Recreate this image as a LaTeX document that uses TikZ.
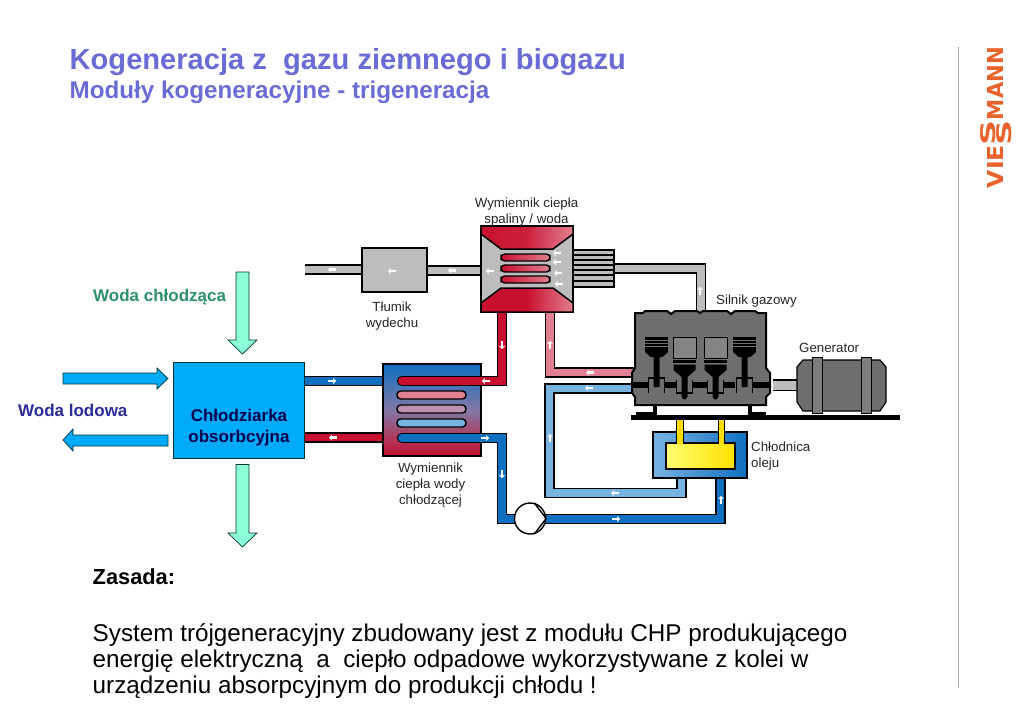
\documentclass[tikz,border=0pt]{standalone}
\usepackage{fontspec}
\setmainfont{Liberation Sans}
\newfontfamily\logofont{DejaVu Sans}
\usetikzlibrary{arrows.meta}
\definecolor{titleblue}{HTML}{6B6BD6}
\definecolor{logoorange}{HTML}{E8632B}
\definecolor{mint}{HTML}{8CFFD8}
\definecolor{chillblue}{HTML}{00AAFA}
\definecolor{darkred}{HTML}{C8102E}
\definecolor{pinkred}{HTML}{E27F90}
\definecolor{darkblue}{HTML}{0F6FC0}
\definecolor{lightblue}{HTML}{78B4E2}
\definecolor{exhaust}{HTML}{BDBDBD}
\definecolor{motor}{HTML}{6E6E6E}
\definecolor{coolgreen}{HTML}{2E9070}
\definecolor{iceblue}{HTML}{2B2B9B}
\tikzset{
  pipe/.style={draw=black, line width=1.2pt, double distance=7.8pt},
  coil/.style={draw=black, line width=1.4pt, rounded corners=3.6pt},
  flow/.style={draw=white, line width=2.6pt, -{Stealth[length=3pt,width=6pt]}},
  bigarrow/.style={draw=black!60!teal, line width=0.7pt},
  label/.style={font=\fontsize{13.3}{16.3}\selectfont, text=black!85, inner sep=0pt, align=center},
  logotext/.style={inner sep=0pt, text=logoorange, rotate=90, font=\logofont\bfseries},
  part/.style={draw=black, line width=1.5pt}
}
\newcommand{\flowmark}[3]{\draw[flow] (#1,#2) ++(#3:-4) -- ++(#3:8);}
\begin{document}
\begin{tikzpicture}[x=1pt, y=-1pt]
  \useasboundingbox (0,0) rectangle (1023,723);
  % header and logo
  \node[anchor=base west, inner sep=0pt, text=titleblue, font=\fontsize{29.1}{32}\selectfont\bfseries] (title) at (69.5,69) {Kogeneracja z\ \ gazu ziemnego i biogazu};
  \node[anchor=base west, inner sep=0pt, text=titleblue, font=\fontsize{24.2}{28}\selectfont\bfseries] (subtitle) at (69.5,98) {Moduły kogeneracyjne - trigeneracja};
  \draw[black!35, line width=0.8pt] (958,47) -- (958,688);
  \node[logotext] (logovie) at (995,166.5) {\resizebox{43pt}{16pt}{VIE}};
  \node[logotext] (logoupper) at (988,132.5) {\resizebox{25pt}{15pt}{S}};
  \node[logotext] (logolower) at (1004.5,132.5) {\resizebox{25pt}{15pt}{S}};
  \node[logotext] (logomann) at (995,83.5) {\resizebox{73pt}{16pt}{MANN}};

  % exhaust line
  \draw[pipe, double=exhaust] (305,269.5) -- (370,269.5);
  \draw[pipe, double=exhaust] (420,270.5) -- (490,270.5);
  \draw[pipe, double=exhaust] (605,268.5) -- (701,268.5) -- (701,316);
  \draw[part, fill=exhaust] (362,248) rectangle (427,292);
  % exhaust tube bundle
  \draw[part, fill=exhaust] (570,250) rectangle (614,287);
  \foreach \ypos in {255,260,265,270,275,281}
    \draw[black, line width=1.3pt] (573,\ypos) -- (614,\ypos);

  % water pipes
  \draw[pipe, double=pinkred] (550,305) -- (550,372.5) -- (640,372.5);
  \draw[pipe, double=lightblue] (640,388.5) -- (549.5,388.5) -- (549.5,493) -- (681.5,493) -- (681.5,470);
  \draw[pipe, double=darkblue] (720.5,470) -- (720.5,519) -- (530,519);
  \draw[pipe, double=darkblue] (300,381) -- (390,381);
  \draw[pipe, double=darkred] (300,437.5) -- (390,437.5);

  % cooling water exchanger
  \draw[part, top color=darkblue, bottom color=darkred, middle color=darkblue!45!pinkred] (383,364) rectangle (481,456);
  \draw[coil, fill=pinkred] (397,391) rectangle (466,399);
  \draw[coil, fill=pinkred!65!lightblue] (397,405) rectangle (466,413);
  \draw[coil, fill=lightblue] (397,419) rectangle (466,427);
  \draw[pipe, double=darkred, line cap=round] (502,305) -- (502,381) -- (402,381);
  \draw[pipe, double=darkblue, line cap=round] (402,438) -- (502,438) -- (502,519) -- (525,519);

  % flue gas / water exchanger
  \draw[part, fill=exhaust] (481,226) rectangle (573,312);
  \draw[part, left color=darkred, right color=pinkred, middle color=darkred!85!pinkred] (481,226) -- (573,226) -- (573,234) -- (553,249) -- (501,249) -- (481,234) -- cycle;
  \draw[part, left color=darkred, right color=pinkred, middle color=darkred] (481,312) -- (573,312) -- (573,303) -- (553,288) -- (501,288) -- (481,303) -- cycle;
  \foreach \ypos in {254,265,276}
    \draw[coil, left color=darkred, right color=pinkred] (501,\ypos) rectangle (550,\ypos+7);

  % pump
  \node[circle, draw=black, line width=1.4pt, fill=white, minimum size=31pt, inner sep=0pt] (pump) at (530,518.5) {};
  \draw[black, line width=1.4pt] (pump.75) -- (pump.east) -- (pump.-75);

  % oil cooler
  \draw[part, left color=lightblue, right color=darkblue] (653,432) rectangle (747,478);
  \draw[part, left color=yellow!55!white, right color=yellow!75!orange] (666,443) rectangle (735,469);
  \foreach \xpos in {680,721.5}{
    \draw[black, line width=1.2pt, double=yellow!80!orange, double distance=5.5pt] (\xpos,418) -- (\xpos,444);
  }

  % engine
  \draw[black, line width=5pt] (631,417.5) -- (900,417.5);
  \draw[black, fill=black, line width=1pt] (636,416) -- (636,412) -- (653,412) -- (653,404) -- (656,404) -- (656,416) -- cycle;
  \draw[black, fill=black, line width=1pt] (765,416) -- (765,412) -- (751,412) -- (751,404) -- (748,404) -- (748,416) -- cycle;
  \draw[black, fill=motor, line width=2pt] (635,313) -- (643,313) -- (645,311) -- (667,311) -- (671,314) -- (675,311) -- (697,311) -- (700,313) -- (703,311) -- (727,311) -- (731,314) -- (735,311) -- (755,311) -- (758,313) -- (766,313) -- (766,368) -- (770,373) -- (770,393) -- (766,397) -- (766,405) -- (635,405) -- (635,397) -- (632,393) -- (632,373) -- (635,368) -- cycle;
  % outer pistons
  \foreach \xpos in {656.5,744.5}{
    \begin{scope}[shift={(\xpos,337)}]
      \fill[black] (-11.5,0) rectangle (11.5,15);
      \foreach \ypos in {3,6,9}
        \draw[motor, line width=0.7pt] (-11.5,\ypos) -- (11.5,\ypos);
      \fill[black] (-11.5,15) -- (11.5,15) -- (6,20) -- (3,20) -- (3,50) -- (-3,50) -- (-3,20) -- (-6,20) -- cycle;
    \end{scope}
  }
  % inner pistons
  \foreach \xpos in {684.5,715.5}{
    \begin{scope}[shift={(\xpos,337)}]
      \draw[black, fill=motor!85!white, line width=1pt] (-11.5,0) rectangle (11.5,21);
      \fill[black] (-11.5,23) rectangle (11.5,25.5);
      \fill[black] (-11,27.5) -- (11,27.5) -- (11,33) -- (3,40) -- (3,60) -- (-3,60) -- (-3,40) -- (-11,33) -- cycle;
      \fill[black] (0,60) circle (2.5);
    \end{scope}
  }
  % crankshaft
  \draw[black, line width=5.5pt] (632,385) -- (648,385);
  \draw[black, line width=5.5pt] (665,385) -- (677,385);
  \draw[black, line width=5.5pt] (692,385) -- (708,385);
  \draw[black, line width=5.5pt] (723,385) -- (735,385);
  \draw[black, line width=5.5pt] (752,385) -- (770,385);
  \foreach \xpos in {656.5,744.5}
    \draw[black, line width=1.8pt] (\xpos-8,393) -- (\xpos-8,378) -- (\xpos+8,378) -- (\xpos+8,393);
  \foreach \xpos in {684.5,715.5}
    \draw[black, line width=1.8pt] (\xpos-8,380) -- (\xpos-8,393) -- (\xpos+8,393) -- (\xpos+8,380);

  % generator
  \draw[black, line width=1.2pt, double=exhaust, double distance=9pt] (773,385) -- (797,385);
  \draw[black, fill=motor, line width=1.2pt] (797,367) -- (803,360) -- (880,360) -- (886,367) -- (886,402) -- (880,411) -- (803,411) -- (797,402) -- cycle;
  \draw[black, fill=motor!90!white, line width=1pt] (812,357) rectangle (822,413);
  \draw[black, fill=motor!90!white, line width=1pt] (861,357) rectangle (871,413);

  % flow marks
  \foreach \xpos/\ypos/\ang in {332/269.5/180, 392/271/180, 452/270.5/180, 490/271/180, 557/253/180, 557/262/180, 558/273/180, 559/284/180, 700/291/-90, 502/345/90, 550/345/-90, 590/372.5/180, 486/381/180, 332/381/0, 333/437.5/180, 485/438/0, 502/474/90, 550/438/-90, 589/388/180, 615/493/180, 616/519/0, 721/500/-90}{
    \flowmark{\xpos}{\ypos}{\ang}
  }

  % chiller and water arrows
  \node[rectangle, draw=black!60!teal, line width=0.7pt, fill=chillblue, minimum width=131pt, minimum height=96pt, inner sep=0pt] (chiller) at (239,410) {};
  \node[inner sep=0pt, align=center, text=blue!30!black, font=\fontsize{17}{21}\selectfont\bfseries] (chillertext) at (239,427.5) {Chłodziarka\\obsorbcyjna};
  \draw[bigarrow, fill=mint] (236,272) -- (249,272) -- (249,340) -- (257,340) -- (242.5,354) -- (228,340) -- (236,340) -- cycle;
  \draw[bigarrow, fill=mint] (236,464.5) -- (249,464.5) -- (249,533) -- (257,533) -- (242.5,547) -- (228,533) -- (236,533) -- cycle;
  \draw[bigarrow, fill=chillblue] (63,373) -- (157,373) -- (157,368) -- (168,378.5) -- (157,389) -- (157,384) -- (63,384) -- cycle;
  \draw[bigarrow, fill=chillblue] (168,435) -- (73,435) -- (73,429) -- (63,440) -- (73,451) -- (73,446) -- (168,446) -- cycle;

  % labels
  \node[anchor=base west, inner sep=0pt, text=coolgreen, font=\fontsize{17}{20}\selectfont\bfseries] (coolinglabel) at (93,301.5) {Woda chłodząca};
  \node[anchor=base west, inner sep=0pt, text=iceblue, font=\fontsize{17}{20}\selectfont\bfseries] (icelabel) at (18,416.5) {Woda lodowa};
  \node[label] (exchlabel) at (526.5,212) {Wymiennik ciepła\\spaliny / woda};
  \node[label] (mufflerlabel) at (392,316) {Tłumik\\wydechu};
  \node[label, anchor=base west] (enginelabel) at (716,304.5) {Silnik gazowy};
  \node[label, anchor=base west] (genlabel) at (799,352.5) {Generator};
  \node[label, anchor=west, align=left] (oillabel) at (751,456) {Chłodnica\\oleju};
  \node[label] (waterlabel) at (430.5,485) {Wymiennik\\ciepła wody\\chłodzącej};

  % principle text
  \node[anchor=base west, inner sep=0pt, font=\fontsize{21.8}{24}\selectfont\bfseries] (principle) at (92.5,584) {Zasada:};
  \node[anchor=north west, inner sep=0pt, align=left, font=\fontsize{24.25}{26}\selectfont] (body) at (92.5,623) {System trójgeneracyjny zbudowany jest z modułu CHP produkującego\\energię elektryczną\ \ a\ \ ciepło odpadowe wykorzystywane z kolei w\\urządzeniu absorpcyjnym do produkcji chłodu !};
\end{tikzpicture}
\end{document}
